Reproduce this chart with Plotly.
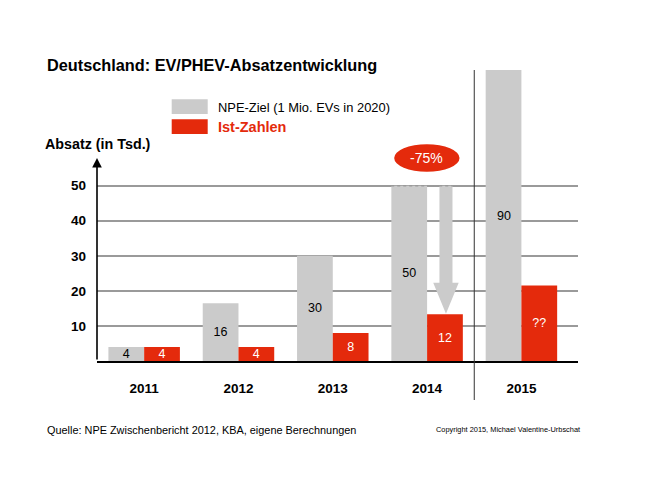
import plotly.graph_objects as go

# ---- data ----
years = ["2011", "2012", "2013", "2014", "2015"]
npe_ziel = [4, 16.5, 30, 50, 90]          # bar heights as drawn
npe_labels = ["4", "16", "30", "50", "90"]
ist_zahlen = [4, 4, 8, 13.3, 21.5]
ist_labels = ["4", "4", "8", "12", "??"]
y_ticks = [10, 20, 30, 40, 50]

GRAY = "#cbcbcb"
RED = "#e42a0c"
FONT = "Liberation Sans"
Y_MAX = 83
BARGAP = 0.242

W, H = 656, 492
L, R, T, B = 97, 78, 70, 131
def px(x):
    return (x - L) / (W - L - R)
def py(y):
    return (H - B - y) / (H - T - B)

# labels of bars that run past the top of the plot are placed by annotation
npe_text = [lab if v <= Y_MAX else "" for v, lab in zip(npe_ziel, npe_labels)]

fig = go.Figure()
fig.add_trace(go.Bar(
    x=years, y=npe_ziel, name="NPE-Ziel (1 Mio. EVs in 2020)",
    marker=dict(color=GRAY, line=dict(width=0)),
    text=npe_text, textposition="inside", insidetextanchor="middle",
    textangle=0, constraintext="none",
    textfont=dict(family=FONT, size=12.5, color="black"),
))
fig.add_trace(go.Bar(
    x=years, y=ist_zahlen, name="Ist-Zahlen",
    marker=dict(color=RED, line=dict(width=0)),
    text=ist_labels, textposition="inside", insidetextanchor="middle",
    textangle=0, constraintext="none",
    textfont=dict(family=FONT, size=12.5, color="white"),
))

shapes = []
annotations = []

half_bar = (1 - BARGAP) / 4
for i, (v, lab) in enumerate(zip(npe_ziel, npe_labels)):
    if v > Y_MAX:
        annotations.append(dict(xref="x", yref="y", x=i - half_bar, y=Y_MAX / 2,
                                text=lab, showarrow=False,
                                font=dict(family=FONT, size=12.5, color="black")))

# legend (custom)
shapes.append(dict(type="rect", xref="paper", yref="paper",
                   x0=px(171.7), x1=px(207.7), y0=py(114), y1=py(99.3),
                   fillcolor=GRAY, line=dict(width=0)))
shapes.append(dict(type="rect", xref="paper", yref="paper",
                   x0=px(171.7), x1=px(207.7), y0=py(134), y1=py(119.3),
                   fillcolor=RED, line=dict(width=0)))
annotations.append(dict(xref="paper", yref="paper", x=px(215.5), y=py(107),
                        xanchor="left", yanchor="middle", showarrow=False,
                        text="NPE-Ziel (1 Mio. EVs in 2020)",
                        font=dict(family=FONT, size=12.9, color="black")))
annotations.append(dict(xref="paper", yref="paper", x=px(215.5), y=py(127),
                        xanchor="left", yanchor="middle", showarrow=False,
                        text="Ist-Zahlen",
                        font=dict(family=FONT, size=14.5, color=RED, weight="bold")))

# title, axis title, footer
annotations.append(dict(xref="paper", yref="paper", x=px(45), y=py(64.5),
                        xanchor="left", yanchor="middle", showarrow=False,
                        text="Deutschland: EV/PHEV-Absatzentwicklung",
                        font=dict(family=FONT, size=16.3, color="black", weight="bold")))
annotations.append(dict(xref="paper", yref="paper", x=px(43), y=py(144),
                        xanchor="left", yanchor="middle", showarrow=False,
                        text="Absatz (in Tsd.)",
                        font=dict(family=FONT, size=14.3, color="black", weight="bold")))
annotations.append(dict(xref="paper", yref="paper", x=px(45), y=py(430),
                        xanchor="left", yanchor="middle", showarrow=False,
                        text="Quelle: NPE Zwischenbericht 2012, KBA, eigene Berechnungen",
                        font=dict(family=FONT, size=10.9, color="black")))
annotations.append(dict(xref="paper", yref="paper", x=px(434), y=py(429),
                        xanchor="left", yanchor="middle", showarrow=False,
                        text="Copyright 2015, Michael Valentine-Urbschat",
                        font=dict(family=FONT, size=7.4, color="black")))

# y axis with arrow
annotations.append(dict(xref="x", yref="y", axref="x", ayref="y",
                        x=-0.5, y=57.9, ax=-0.5, ay=0, text="",
                        showarrow=True, arrowhead=2, arrowsize=1.2,
                        arrowwidth=1.6, arrowcolor="black", standoff=0))

# separator line before 2015
shapes.append(dict(type="line", xref="x", yref="paper", x0=3.5, x1=3.5,
                   y0=py(400), y1=1, line=dict(color="#333333", width=1),
                   layer="above"))

# -75% arrow on 2014
cx = 3.2
shaft, head = 0.069, 0.135
top = npe_ziel[3]
tip = ist_zahlen[3] + 0.2
neck = 22.3
path = (f"M {cx-shaft},{top} L {cx+shaft},{top} L {cx+shaft},{neck} "
        f"L {cx+head},{neck} L {cx},{tip} L {cx-head},{neck} "
        f"L {cx-shaft},{neck} Z")
shapes.append(dict(type="path", xref="x", yref="y", path=path,
                   fillcolor=GRAY, line=dict(width=0), layer="above"))
shapes.append(dict(type="line", xref="x", yref="y", x0=2.62, x1=cx+shaft,
                   y0=top, y1=top, line=dict(color="#9a9a9a", width=1.5, dash="dot"),
                   layer="above"))
shapes.append(dict(type="circle", xref="x", yref="y", x0=2.651, x1=3.344,
                   y0=54.0, y1=61.8, fillcolor=RED, line=dict(width=0),
                   layer="above"))
annotations.append(dict(xref="x", yref="y", x=2.998, y=57.9, showarrow=False,
                        text="-75%", xanchor="center", yanchor="middle",
                        font=dict(family=FONT, size=14, color="white")))

fig.update_layout(
    width=W, height=H,
    margin=dict(l=L, r=R, t=T, b=B, pad=0),
    paper_bgcolor="white", plot_bgcolor="white",
    barmode="group", bargap=BARGAP, bargroupgap=0,
    showlegend=False,
    uniformtext=dict(minsize=12.5, mode="show"),
    shapes=shapes, annotations=annotations,
    font=dict(family=FONT),
)
fig.update_xaxes(
    type="category", range=[-0.5, 4.6],
    showline=True, linecolor="black", linewidth=2,
    showgrid=False, ticks="", ticklabelstandoff=14,
    tickfont=dict(family=FONT, size=13.5, color="black", weight="bold"),
)
fig.update_yaxes(
    range=[0, Y_MAX], tickvals=y_ticks, showgrid=True,
    gridcolor="#9a9a9a", gridwidth=1.5, zeroline=False, showline=False,
    ticks="", ticklabelstandoff=10,
    tickfont=dict(family=FONT, size=13.5, color="black", weight="bold"),
)

fig.write_html("out.html")
